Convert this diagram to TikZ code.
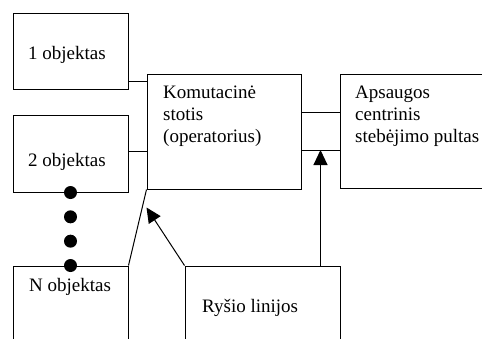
\documentclass[tikz,border=0pt]{standalone}
\usepackage{fontspec}
\setmainfont{Liberation Serif}
\usetikzlibrary{arrows.meta,calc}
\begin{document}
\begin{tikzpicture}[x=1pt,y=-1pt,
  box/.style={draw,line width=1pt,inner sep=0pt,minimum width=#1},
  txt/.style={anchor=base west,inner sep=0pt,font=\fontsize{19}{22}\selectfont},
  dotnode/.style={circle,fill,inner sep=0pt,minimum size=13pt},
  conn/.style={line width=1pt},
  arr/.style={line width=1pt,-{Triangle[length=15pt,width=14pt]}}]
\useasboundingbox (0,0) rectangle (482,338);
\clip (0,0) rectangle (482,338);
% boxes
\node[box=115pt,minimum height=76pt] (o1) at (70.5,51) {};
\node[box=115pt,minimum height=77pt] (o2) at (70.5,153.5) {};
\node[box=115pt,minimum height=94pt] (oN) at (70.5,313) {};
\node[box=154pt,minimum height=115pt] (kom) at (224,131.5) {};
\node[box=160pt,minimum height=114pt] (aps) at (420,131) {};
\node[box=155pt,minimum height=94pt] (rys) at (262.5,313) {};
% texts
\node[txt] (t1) at (28,59) {1 objektas};
\node[txt] (t2) at (28,166) {2 objektas};
\node[txt] (tN) at (29,291) {N objektas};
\node[txt] (tR) at (202,312) {Ryšio linijos};
\node[txt,align=left] (tK) at (163,142) {Komutacinė\\stotis\\(operatorius)};
\node[txt,align=left] (tA) at (355,142) {Apsaugos\\centrinis\\stebėjimo pultas};
% connectors
\coordinate (c1) at ([yshift=8pt]o1.south east);
\draw[conn] (c1) -- (c1 -| kom.west);
\coordinate (c2) at ([yshift=2.5pt]o2.east);
\draw[conn] (c2) -- (c2 -| kom.west);
\coordinate (k1) at ([yshift=19.5pt]kom.east);
\draw[conn] (k1) -- (k1 -| aps.west);
\coordinate (k2) at ([yshift=-18.5pt]kom.east);
\draw[conn] (k2) -- (k2 -| aps.west);
\coordinate (r1) at ([xshift=-20pt]rys.north east);
\draw[arr] (r1) -- (r1 |- k2);
\draw[conn] (oN.north east) -- (kom.south west);
\coordinate (tip) at ([yshift=-18pt]kom.south west);
\draw[arr] (rys.north west) -- (tip);
% dots
\foreach \i in {0,1,2,3}
  \node[dotnode] (d\i) at ($(o2.south)!\i/3!(oN.north)$) {};
\end{tikzpicture}
\end{document}
